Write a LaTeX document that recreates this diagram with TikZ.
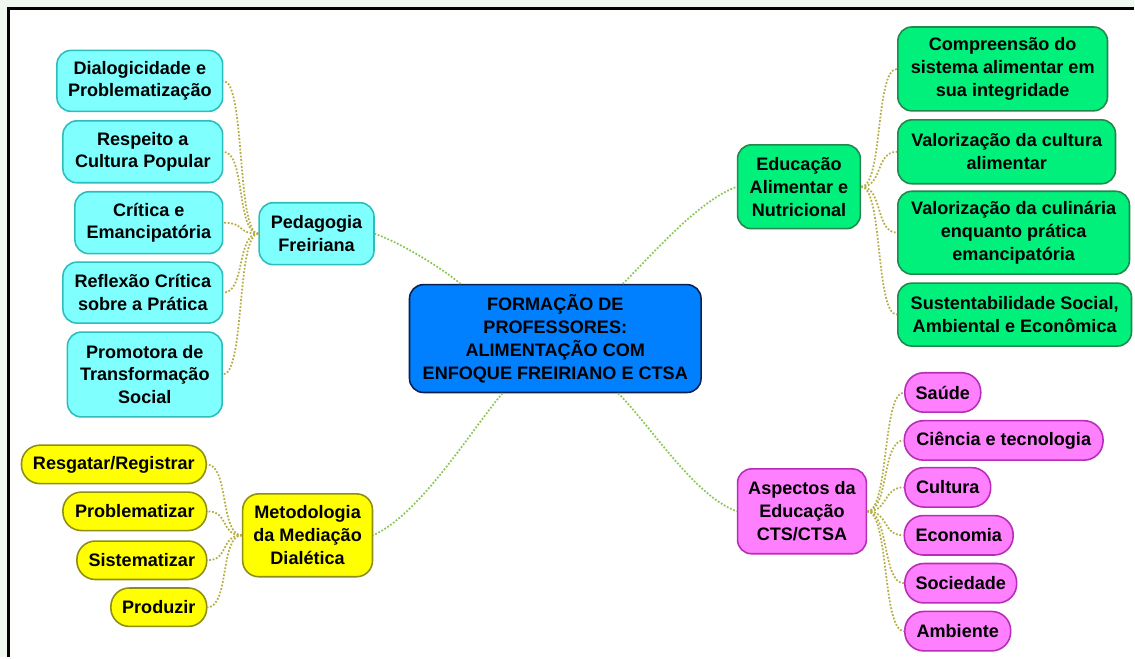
\documentclass[tikz,border=0pt]{standalone}
\usepackage{fontspec}
\setmainfont{Liberation Sans}
\definecolor{pagebg}{HTML}{EFF8EF}
\definecolor{cyanfill}{HTML}{80FFFF}
\definecolor{cyanline}{HTML}{2EBDBD}
\definecolor{greenfill}{HTML}{00F07C}
\definecolor{greenline}{HTML}{23874E}
\definecolor{bluefill}{HTML}{0080FF}
\definecolor{blueline}{HTML}{0A2150}
\definecolor{pinkfill}{HTML}{FF80FF}
\definecolor{pinkline}{HTML}{B82DB8}
\definecolor{yellowfill}{HTML}{FFFF00}
\definecolor{yellowline}{HTML}{8E8E14}
\definecolor{leafcol}{HTML}{B5AE45}
\definecolor{maincol}{HTML}{8CC657}
\begin{document}
\begin{tikzpicture}[x=0.02cm, y=-0.02cm,
  font=\fontsize{10.3}{13}\selectfont\bfseries,
  box/.style={draw, line width=0.9pt, align=center, inner sep=0pt, rounded corners=0.28cm},
  cyanbox/.style={box, fill=cyanfill, draw=cyanline},
  greenbox/.style={box, fill=greenfill, draw=greenline},
  centerbox/.style={box, fill=bluefill, draw=blueline},
  pinkbox/.style={box, fill=pinkfill, draw=pinkline},
  pinkpill/.style={pinkbox, rounded corners=0.38cm, minimum height=0.79cm},
  yellowbox/.style={box, fill=yellowfill, draw=yellowline},
  yellowpill/.style={yellowbox, rounded corners=0.37cm, minimum height=0.77cm},
  mainlink/.style={draw=maincol, densely dotted, line width=1pt, looseness=0.7},
  leaflink/.style={draw=leafcol, densely dotted, line width=1pt}]

% frame
\fill[pagebg] (0,0) rectangle (1135,658);
\fill[white] (9,9) rectangle (1135,658);
\draw[line width=1.7pt] (9,658) -- (9,9) -- (1135,9);
\useasboundingbox (0,0) rectangle (1135,658);

% center
\node[centerbox, minimum width=5.84cm, minimum height=2.16cm] (cen) at (556,339) {FORMAÇÃO DE\\PROFESSORES:\\ALIMENTAÇÃO COM\\ENFOQUE FREIRIANO E CTSA};

% Pedagogia Freiriana
\node[cyanbox, minimum width=2.3cm, minimum height=1.24cm] (ped) at (317,234) {Pedagogia\\Freiriana};
\node[cyanbox, minimum width=3.32cm, minimum height=1.22cm] (dia) at (140,81) {Dialogicidade e\\Problematização};
\node[cyanbox, minimum width=3.2cm, minimum height=1.24cm] (res) at (143,152) {Respeito a\\Cultura Popular};
\node[cyanbox, minimum width=2.96cm, minimum height=1.24cm] (cri) at (149,223) {Crítica e\\Emancipatória};
\node[cyanbox, minimum width=3.2cm, minimum height=1.22cm] (ref) at (143,293) {Reflexão Crítica\\sobre a Prática};
\node[cyanbox, minimum width=3.1cm, minimum height=1.7cm] (pro) at (145,375) {Promotora de\\Transformação\\Social};

% Educacao Alimentar e Nutricional
\node[greenbox, minimum width=2.46cm, minimum height=1.68cm] (edu) at (800,187) {Educação\\Alimentar e\\Nutricional};
\node[greenbox, minimum width=4.2cm, minimum height=1.68cm] (com) at (1004,69) {Compreensão do\\sistema alimentar em\\sua integridade};
\node[greenbox, minimum width=4.36cm, minimum height=1.28cm] (vcu) at (1008,152) {Valorização da cultura\\alimentar};
\node[greenbox, minimum width=4.64cm, minimum height=1.66cm] (vcl) at (1015,233) {Valorização da culinária\\enquanto prática\\emancipatória};
\node[greenbox, minimum width=4.68cm, minimum height=1.26cm] (sus) at (1016,315) {Sustentabilidade Social,\\Ambiental e Econômica};

% Aspectos CTS/CTSA
\node[pinkbox, minimum width=2.58cm, minimum height=1.7cm] (asp) at (803,512) {Aspectos da\\Educação\\CTS/CTSA};
\node[pinkpill, minimum width=1.52cm] (sau) at (944,393) {Saúde};
\node[pinkpill, minimum width=3.98cm] (cie) at (1005,441) {Ciência e tecnologia};
\node[pinkpill, minimum width=1.72cm] (cul) at (949,488) {Cultura};
\node[pinkpill, minimum width=2.18cm] (eco) at (960,536) {Economia};
\node[pinkpill, minimum width=2.24cm] (soc) at (962,584) {Sociedade};
\node[pinkpill, minimum width=2.12cm] (amb) at (959,632) {Ambiente};

% Metodologia
\node[yellowbox, minimum width=2.6cm, minimum height=1.66cm, rounded corners=0.32cm] (met) at (308,536) {Metodologia\\da Mediação\\Dialética};
\node[yellowpill, minimum width=3.7cm] (resg) at (114,465) {Resgatar/Registrar};
\node[yellowpill, minimum width=2.88cm] (prob) at (135,512) {Problematizar};
\node[yellowpill, minimum width=2.6cm] (sis) at (142,561) {Sistematizar};
\node[yellowpill, minimum width=1.92cm] (prod) at (159,608) {Produzir};

% main links
\draw[mainlink] (cen.150) to[out=140,in=-20] (ped.east);
\draw[mainlink] (cen.39) to[out=45,in=200] (edu.west);
\draw[mainlink] (cen.226) to[out=230,in=25] (met.east);
\draw[mainlink] (cen.-41) to[out=-45,in=160] (asp.west);

% leaf links
\foreach \n in {dia,res,cri,ref,pro}
  \draw[leaflink] (ped.west) .. controls +(-22,0) and +(22,0) .. (\n.east);
\foreach \n in {com,vcu,vcl,sus}
  \draw[leaflink] (edu.east) .. controls +(22,0) and +(-22,0) .. (\n.west);
\foreach \n in {sau,cie,cul,eco,soc,amb}
  \draw[leaflink] (asp.east) .. controls +(22,0) and +(-22,0) .. (\n.west);
\foreach \n in {resg,prob,sis,prod}
  \draw[leaflink] (met.west) .. controls +(-22,0) and +(22,0) .. (\n.east);
\end{tikzpicture}
\end{document}
